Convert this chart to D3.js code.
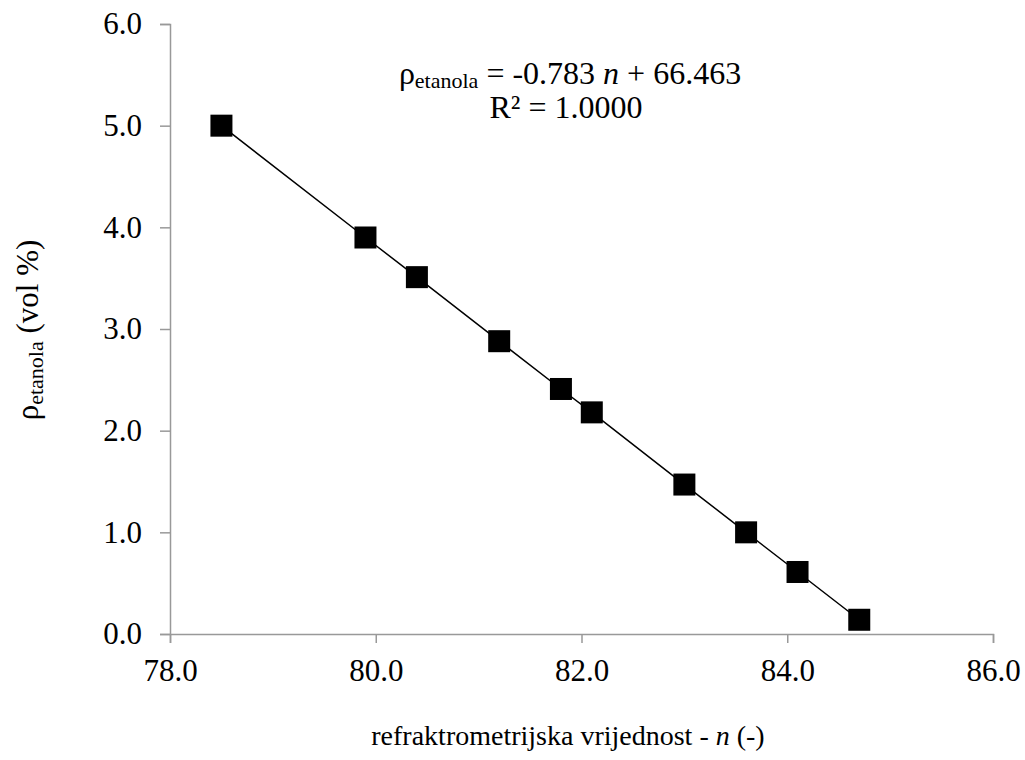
<!DOCTYPE html>
<html>
<head>
<meta charset="utf-8">
<script src="https://cdn.jsdelivr.net/npm/d3@7"></script>
</head>
<body style="margin:0">
<svg id="chart" width="1025" height="760" font-family="Liberation Serif"></svg>
<script>
const nValues = [78.5, 79.9, 80.4, 81.2, 81.8, 82.1, 83.0, 83.6, 84.1, 84.7];
const rhoValues = [5.0, 3.9, 3.51, 2.88, 2.41, 2.18, 1.47, 1.0, 0.61, 0.14];
const xTicks = [78, 80, 82, 84, 86];
const yTicks = [0, 1, 2, 3, 4, 5, 6];
const eqSlope = "-0.783";
const eqIntercept = "66.463";
const rSquared = "1.0000";

const FONT = "Liberation Serif";
const svg = d3.select("#chart");
const x = d3.scaleLinear().domain([78, 86]).range([170, 993]);
const y = d3.scaleLinear().domain([0, 6]).range([634, 24]);

const axisColor = "#999";

// X axis
const gx = svg.append("g").attr("transform", `translate(0,${y(0)})`)
  .call(d3.axisBottom(x).tickValues(xTicks).tickFormat(d3.format(".1f")).tickSizeOuter(0).tickSize(9).tickPadding(16));
gx.attr("font-family", FONT).attr("font-size", 31);
gx.select(".domain").attr("stroke", axisColor).attr("stroke-width", 1.5);
gx.selectAll(".tick line").attr("stroke", axisColor).attr("stroke-width", 1.5);
gx.selectAll(".tick text").attr("font-size", 31).attr("font-family", FONT).attr("fill", "#000");

// Y axis
const gy = svg.append("g").attr("transform", `translate(${x(78)},0)`)
  .call(d3.axisLeft(y).tickValues(yTicks).tickFormat(d3.format(".1f")).tickSizeOuter(0).tickSize(10).tickPadding(18));
gy.attr("font-family", FONT).attr("font-size", 31);
gy.select(".domain").attr("stroke", axisColor).attr("stroke-width", 1.5);
gy.selectAll(".tick line").attr("stroke", axisColor).attr("stroke-width", 1.5);
gy.selectAll(".tick text").attr("font-size", 31).attr("font-family", FONT).attr("fill", "#000");

// Line
const data = nValues.map((n, i) => ({ n, r: rhoValues[i] }));
svg.append("path").datum(data)
  .attr("fill", "none").attr("stroke", "#000").attr("stroke-width", 1.5)
  .attr("d", d3.line().x(d => x(d.n)).y(d => y(d.r)));

// Markers
const ms = 22;
svg.append("g").selectAll("rect").data(data).join("rect")
  .attr("x", d => x(d.n) - ms / 2).attr("y", d => y(d.r) - ms / 2)
  .attr("width", ms).attr("height", ms).attr("fill", "#000");

// Equation
const eq = svg.append("text").attr("x", 570).attr("y", 84).attr("text-anchor", "middle")
  .attr("font-size", 32).attr("font-family", FONT);
eq.append("tspan").text("ρ");
eq.append("tspan").attr("font-size", 22).attr("dy", 4).text("etanola");
eq.append("tspan").attr("dy", -4).text(` = ${eqSlope} `);
eq.append("tspan").attr("font-style", "italic").text("n");
eq.append("tspan").text(` + ${eqIntercept}`);

svg.append("text").attr("x", 566).attr("y", 118).attr("text-anchor", "middle")
  .attr("font-size", 32).attr("font-family", FONT)
  .text(`R² = ${rSquared}`);

// X title
const xt = svg.append("text").attr("x", 568).attr("y", 745).attr("text-anchor", "middle")
  .attr("font-size", 28).attr("font-family", FONT);
xt.append("tspan").text("refraktrometrijska vrijednost - ");
xt.append("tspan").attr("font-style", "italic").text("n");
xt.append("tspan").text(" (-)");

// Y title
const yt = svg.append("text").attr("transform", "translate(38,330) rotate(-90)").attr("text-anchor", "middle")
  .attr("font-size", 31).attr("font-family", FONT);
yt.append("tspan").text("ρ");
yt.append("tspan").attr("font-size", 22).attr("dy", 5).text("etanola");
yt.append("tspan").attr("dy", -5).text(" (vol %)");
</script>
</body>
</html>
